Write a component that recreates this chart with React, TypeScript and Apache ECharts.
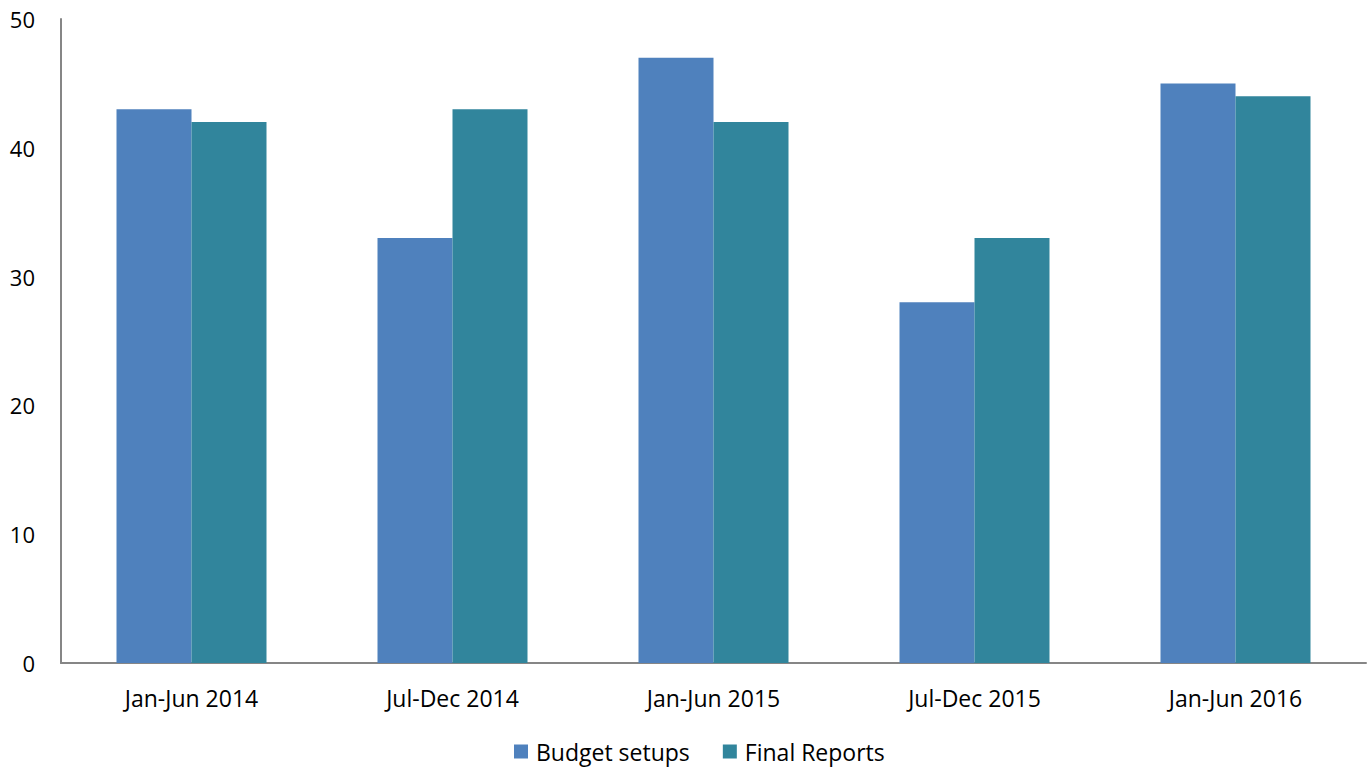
import React, { useEffect, useRef } from "react";
import * as echarts from "echarts";

const categories = ["Jan-Jun 2014", "Jul-Dec 2014", "Jan-Jun 2015", "Jul-Dec 2015", "Jan-Jun 2016"];
const budgetSetups = [43, 33, 47, 28, 45];
const finalReports = [42, 43, 42, 33, 44];

const FONT = "'Open Sans', sans-serif";

export default function App() {
  const ref = useRef<HTMLDivElement>(null);
  useEffect(() => {
    const chart = echarts.init(ref.current!, null, { renderer: "svg" });
    chart.setOption({
      animation: false,
      grid: { left: 61, right: 4, top: 19, bottom: 107, containLabel: false },
      legend: {
        bottom: 2,
        left: 509,
        itemWidth: 14,
        itemHeight: 14,
        itemGap: 33,
        icon: "rect",
        textStyle: { fontFamily: FONT, fontSize: 23, color: "#000", padding: [0, 0, 0, 3] },
        data: ["Budget setups", "Final Reports"],
      },
      xAxis: {
        type: "category",
        data: categories,
        axisLine: { lineStyle: { color: "#868686", width: 2 } },
        axisTick: { show: false },
        axisLabel: { fontFamily: FONT, fontSize: 23, color: "#000", margin: 23 },
      },
      yAxis: {
        type: "value",
        min: 0,
        max: 50,
        interval: 10,
        axisLine: { show: true, lineStyle: { color: "#868686", width: 2 } },
        axisTick: { show: false },
        splitLine: { show: false },
        axisLabel: { fontFamily: FONT, fontSize: 22, color: "#000", margin: 26 },
      },
      series: [
        {
          name: "Budget setups",
          type: "bar",
          data: budgetSetups,
          barWidth: 75,
          barGap: "0%",
          itemStyle: { color: "#4F81BD" },
        },
        {
          name: "Final Reports",
          type: "bar",
          data: finalReports,
          barWidth: 75,
          barGap: "0%",
          itemStyle: { color: "#31859C" },
        },
      ],
    });
    return () => chart.dispose();
  }, []);
  return <div ref={ref} style={{ width: 1370, height: 770, position: "absolute", left: 0, top: 0 }} />;
}
